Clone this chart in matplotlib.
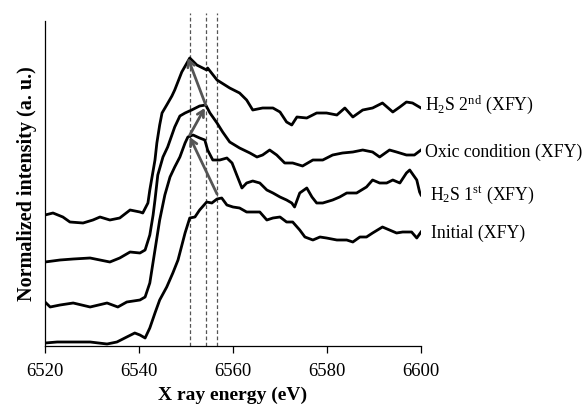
import matplotlib
matplotlib.use("Agg")
import matplotlib.pyplot as plt

plt.rcParams['font.family'] = ['Liberation Serif', 'DejaVu Serif']
plt.rcParams['mathtext.fontset'] = 'custom'
plt.rcParams['mathtext.rm'] = 'Liberation Serif'
plt.rcParams['mathtext.it'] = 'Liberation Serif:italic'
plt.rcParams['mathtext.bf'] = 'Liberation Serif:bold'

# ---------------- data ----------------
h2s2_e = [6520.0, 6521.7, 6523.8, 6525.3, 6528.1, 6530.2, 6531.7, 6533.8, 6535.9, 6538.1,
          6540.2, 6540.8, 6541.9, 6542.3, 6543.4, 6543.8, 6544.4, 6544.9, 6545.9, 6547.0,
          6547.6, 6549.1, 6550.2, 6550.8, 6552.3, 6554.4, 6554.6, 6556.6, 6559.3, 6561.4,
          6562.9, 6564.2, 6566.3, 6568.5, 6570.0, 6571.4, 6572.5, 6573.6, 6575.7, 6577.8,
          6579.9, 6582.1, 6583.8, 6585.5, 6587.6, 6589.7, 6591.8, 6594.0, 6595.5, 6596.9,
          6598.2, 6600.0]
h2s2_i = [131, 133, 129, 124, 123, 126, 129, 126, 128, 136,
          134, 133, 143, 156, 186, 203, 221, 233, 241, 250,
          256, 274, 283, 288, 281, 276, 278, 266, 258, 253,
          246, 236, 238, 238, 234, 224, 221, 229, 228, 233,
          233, 231, 238, 229, 236, 238, 243, 234, 239, 244,
          243, 238]

oxic_e = [6520.0, 6523.2, 6526.0, 6529.6, 6533.8, 6535.9, 6538.1, 6540.2, 6541.3, 6542.3,
          6543.0, 6543.4, 6544.0, 6545.1, 6546.1, 6547.6, 6548.7, 6549.8, 6551.2, 6552.9,
          6554.2, 6555.1, 6556.6, 6557.8, 6559.3, 6561.4, 6563.6, 6565.1, 6566.3, 6567.8,
          6569.3, 6571.0, 6572.7, 6574.8, 6577.0, 6579.1, 6581.2, 6583.3, 6585.5, 6587.6,
          6589.7, 6591.2, 6593.3, 6594.8, 6596.9, 6598.6, 6600.0]
oxic_i = [84, 86, 87, 88, 84, 88, 94, 93, 96, 111,
          131, 146, 171, 189, 199, 219, 230, 233, 236, 240,
          241, 233, 223, 214, 204, 198, 193, 189, 191, 196,
          191, 183, 183, 180, 186, 186, 191, 193, 194, 196,
          194, 189, 196, 194, 191, 191, 196]

h2s1_e = [6520.0, 6521.1, 6523.2, 6526.0, 6529.6, 6533.2, 6535.5, 6537.4, 6540.2, 6541.3,
          6542.3, 6543.0, 6543.4, 6544.4, 6545.5, 6546.6, 6547.6, 6548.7, 6549.8, 6550.4,
          6551.5, 6552.9, 6554.0, 6554.6, 6555.7, 6557.2, 6558.7, 6559.8, 6560.8, 6561.9,
          6562.9, 6564.2, 6565.7, 6567.2, 6568.5, 6570.0, 6571.4, 6572.5, 6573.1, 6574.2,
          6575.7, 6576.8, 6577.8, 6579.1, 6581.2, 6582.7, 6584.2, 6586.3, 6588.4, 6589.7,
          6591.2, 6592.7, 6594.0, 6595.5, 6596.9, 6597.6, 6599.1, 6599.7, 6600.0]
h2s1_i = [44, 39, 41, 43, 39, 43, 39, 44, 46, 49,
          63, 84, 96, 126, 151, 169, 179, 189, 203, 209,
          211, 208, 206, 196, 186, 186, 188, 183, 171, 158,
          163, 165, 163, 156, 153, 149, 146, 143, 139, 153,
          158, 149, 143, 143, 146, 149, 153, 153, 159, 166,
          163, 163, 166, 163, 173, 176, 166, 154, 151]

init_e = [6520.0, 6522.6, 6526.0, 6529.6, 6533.2, 6535.3, 6537.4, 6539.1, 6540.2, 6541.3,
          6542.3, 6543.4, 6544.4, 6545.9, 6547.2, 6548.3, 6549.8, 6550.8, 6551.9, 6552.9,
          6554.4, 6555.5, 6556.6, 6557.6, 6558.7, 6560.0, 6561.4, 6562.9, 6564.2, 6565.7,
          6567.2, 6568.5, 6570.0, 6571.4, 6572.7, 6574.2, 6575.3, 6577.0, 6578.5, 6579.9,
          6582.1, 6584.2, 6585.5, 6587.0, 6588.4, 6589.7, 6591.8, 6593.3, 6594.8, 6596.1,
          6598.0, 6599.1, 6600.0]
init_i = [3, 4, 4, 4, 2, 4, 9, 13, 11, 8,
          18, 33, 46, 59, 73, 86, 113, 128, 129, 136,
          144, 143, 147, 148, 141, 139, 138, 134, 134, 134,
          126, 128, 129, 124, 124, 116, 109, 106, 109, 108,
          106, 106, 104, 109, 109, 113, 119, 116, 113, 114,
          114, 108, 114]

series_labels = [r'H$_2$S 2$^{\mathrm{nd}}$ (XFY)', 'Oxic condition (XFY)',
                 r'H$_2$S 1$^{\mathrm{st}}$ (XFY)', 'Initial (XFY)']
label_pos = [(6600.9, 241), (6600.9, 194), (6601.9, 151), (6602.1, 113)]

peak_lines = [6550.9, 6554.2, 6556.6]
# arrows: (tail_e, tail_i, head_e, head_i)
arrows = [(6556.6, 152, 6550.8, 209),
          (6550.8, 211, 6554.0, 238),
          (6554.2, 241, 6550.4, 288)]

xticks = [6520, 6540, 6560, 6580, 6600]

# ---------------- figure ----------------
fig = plt.figure(figsize=(5.84, 4.05), dpi=100)
ax = fig.add_axes([45/584, 59/405, 376/584, 325/405])

for e, i in [(h2s2_e, h2s2_i), (oxic_e, oxic_i), (h2s1_e, h2s1_i), (init_e, init_i)]:
    ax.plot(e, i, color='black', lw=2.0, solid_joinstyle='round', zorder=3)

for x in peak_lines:
    ax.axvline(x, ymin=0, ymax=1.025, color='#555555', lw=0.9,
               dashes=(3, 2), clip_on=False, zorder=2)

for te, ti, he, hi in arrows:
    ax.annotate('', xy=(he, hi), xytext=(te, ti),
                arrowprops=dict(arrowstyle='->,head_length=0.45,head_width=0.25',
                                color='#555555', lw=2.0, shrinkA=0, shrinkB=0),
                zorder=4)

for lab, (x, y) in zip(series_labels, label_pos):
    ax.text(x, y, lab, ha='left', va='center', fontsize=12.8)

ax.set_xlim(6520, 6600)
ax.set_ylim(0, 325)
ax.set_xticks(xticks)
ax.set_xticklabels([str(t) for t in xticks], fontsize=13.5)
ax.set_yticks([])
ax.spines['top'].set_visible(False)
ax.spines['right'].set_visible(False)
ax.spines['left'].set_linewidth(0.9)
ax.spines['bottom'].set_linewidth(0.9)
ax.tick_params(axis='x', direction='out', length=5, width=0.9, pad=7)

ax.set_xlabel('X ray energy (eV)', fontsize=14, fontweight='bold', labelpad=5)
ax.set_ylabel('Normalized intensity (a. u.)', fontsize=14.5, fontweight='bold', labelpad=6)

fig.savefig('out.png', dpi=100)
